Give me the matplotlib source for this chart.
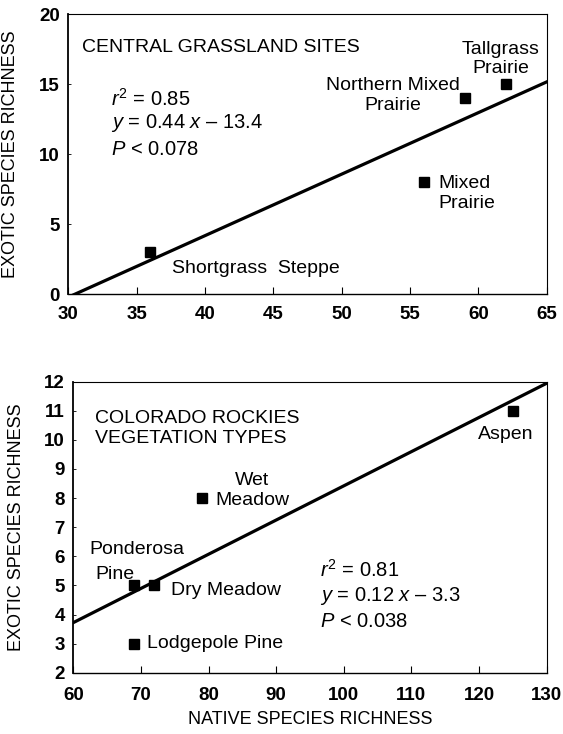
import numpy as np
import matplotlib
matplotlib.use("Agg")
import matplotlib.pyplot as plt

plt.rcParams['font.family'] = ['Liberation Sans', 'DejaVu Sans']
plt.rcParams['mathtext.fontset'] = 'custom'
plt.rcParams['mathtext.rm'] = 'Liberation Sans'
plt.rcParams['mathtext.it'] = 'Liberation Sans:italic'

# Top panel: central grassland sites
grass_sites = ["Shortgrass  Steppe", "Mixed\nPrairie", "Northern Mixed\nPrairie", "Tallgrass\nPrairie"]
grass_native = [36, 56, 59, 62]
grass_exotic = [3, 8, 14, 15]
grass_xticks = [30, 35, 40, 45, 50, 55, 60, 65]
grass_yticks = [0, 5, 10, 15, 20]

# Bottom panel: Colorado Rockies vegetation types
rock_types = ["Ponderosa\nPine", "Dry Meadow", "Wet\nMeadow", "Aspen", "Lodgepole Pine"]
rock_native = [69, 72, 79, 125, 69]
rock_exotic = [5, 5, 8, 11, 3]
rock_xticks = [60, 70, 80, 90, 100, 110, 120, 130]
rock_yticks = [2, 3, 4, 5, 6, 7, 8, 9, 10, 11, 12]

fig = plt.figure(figsize=(5.63, 7.34), dpi=100)
ax1 = fig.add_axes([0.1213, 0.599, 0.8497, 0.3819])
ax2 = fig.add_axes([0.1302, 0.0835, 0.8408, 0.3965])

def style(ax, xlim, ylim, xt, yt, xpad):
    ax.set_xlim(*xlim)
    ax.set_ylim(*ylim)
    ax.set_xticks(xt)
    ax.set_yticks(yt)
    ax.tick_params(axis='x', direction='in', length=5, width=0.8, labelsize=13.5, pad=xpad)
    ax.tick_params(axis='y', direction='in', length=2.5, width=0.6, labelsize=13.5, pad=6)
    for lab in ax.get_xticklabels() + ax.get_yticklabels():
        lab.set_fontweight('bold')
    for s in ax.spines.values():
        s.set_linewidth(0.8)
    ax.spines['left'].set_linewidth(1.3)
    ax.spines['bottom'].set_linewidth(1.0)

fs = 14
eqfs = 14.5

# Top panel
style(ax1, (30, 65), (0, 20), grass_xticks, grass_yticks, 8.5)
k1, b1 = np.polyfit(grass_native, grass_exotic, 1)
xs1 = np.array([30, 65])
ax1.plot(xs1, k1 * xs1 + b1, color='black', lw=2.3)
ax1.plot(grass_native, grass_exotic, 's', color='black', ms=7)
ax1.set_ylabel("EXOTIC SPECIES RICHNESS", fontsize=13)
ax1.yaxis.set_label_coords(-0.103, 0.5)
ax1.text(30.98, 17.6, "CENTRAL GRASSLAND SITES", fontsize=fs, va='center', ha='left')
ax1.text(61.63, 16.78, grass_sites[3], fontsize=fs, va='center', ha='center', linespacing=1.2)
ax1.text(53.73, 14.19, grass_sites[2], fontsize=fs, va='center', ha='center', linespacing=1.2)
ax1.text(57.07, 7.19, grass_sites[1], fontsize=fs, va='center', ha='left', linespacing=1.2)
ax1.text(37.56, 1.83, grass_sites[0], fontsize=fs, va='center', ha='left')
ax1.text(33.12, 13.93, r"$r^2$ = 0.85", fontsize=eqfs, va='center', ha='left')
ax1.text(33.12, 12.19, r"$y$ = 0.44 $x$ – 13.4", fontsize=eqfs, va='center', ha='left')
ax1.text(33.12, 10.36, r"$P$ < 0.078", fontsize=eqfs, va='center', ha='left')

# Bottom panel
style(ax2, (60, 130), (2, 12), rock_xticks, rock_yticks, 10)
k2, b2 = np.polyfit(rock_native, rock_exotic, 1)
xs2 = np.array([60, 130])
ax2.plot(xs2, k2 * xs2 + b2, color='black', lw=2.3)
ax2.plot(rock_native, rock_exotic, 's', color='black', ms=7)
ax2.set_ylabel("EXOTIC SPECIES RICHNESS", fontsize=13)
ax2.yaxis.set_label_coords(-0.102, 0.5)
ax2.set_xlabel("NATIVE SPECIES RICHNESS", fontsize=13, labelpad=5)
ax2.text(63.2, 10.39, "COLORADO ROCKIES\nVEGETATION TYPES", fontsize=fs, va='center', ha='left', linespacing=1.2)
ax2.text(62.37, 6.24, "Ponderosa", fontsize=fs, va='center', ha='left')
ax2.text(63.2, 5.38, "Pine", fontsize=fs, va='center', ha='left')
ax2.text(74.4, 4.82, rock_types[1], fontsize=fs, va='center', ha='left')
ax2.text(86.5, 8.27, rock_types[2], fontsize=fs, va='center', ha='center', linespacing=1.2)
ax2.text(124.0, 10.17, rock_types[3], fontsize=fs, va='center', ha='center')
ax2.text(70.85, 2.99, rock_types[4], fontsize=fs, va='center', ha='left')
ax2.text(96.5, 5.53, r"$r^2$ = 0.81", fontsize=eqfs, va='center', ha='left')
ax2.text(96.5, 4.64, r"$y$ = 0.12 $x$ – 3.3", fontsize=eqfs, va='center', ha='left')
ax2.text(96.5, 3.75, r"$P$ < 0.038", fontsize=eqfs, va='center', ha='left')

fig.savefig("out.png", dpi=100)
